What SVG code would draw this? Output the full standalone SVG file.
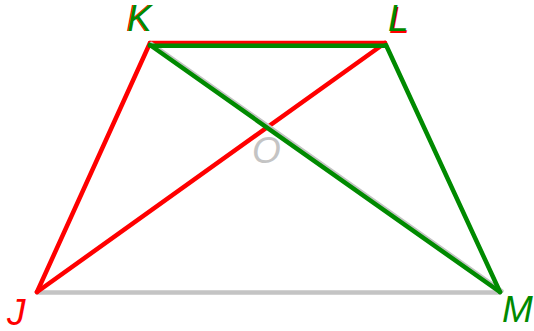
<svg xmlns="http://www.w3.org/2000/svg" width="534" height="331" viewBox="0 0 534 331">
<style>
.ln{fill:none;stroke-width:4.5;stroke-linecap:round;stroke-linejoin:round}
.r{stroke:#ff0000}
.g{stroke:#008a00}
.gy{stroke:#c4c4c4}
.lb{font-family:"Liberation Sans",Arial,sans-serif;font-style:italic;font-size:37px}
</style>
<rect width="534" height="331" fill="#ffffff"/>
<g id="connectors">
<line class="ln gy" x1="37" y1="292.5" x2="500" y2="292.5"/>
<line class="ln r" x1="37" y1="292" x2="150" y2="43"/>
<line class="ln r" x1="37" y1="292" x2="385" y2="43"/>
<line class="ln r" x1="150" y1="43" x2="385" y2="43"/>
<line class="ln gy" x1="151.5" y1="44" x2="501.5" y2="291"/>
<line class="ln g" x1="150" y1="45.7" x2="386" y2="45.7"/>
<line class="ln g" x1="150" y1="45" x2="500" y2="292"/>
<line class="ln g" x1="386" y1="45" x2="500" y2="292"/>
</g>
<g id="K"><text class="lb" x="126" y="31" fill="#ff0000">K</text><text class="lb" x="127" y="31" fill="#008a00">K</text></g>
<g id="L"><text class="lb" x="389" y="33" fill="#ff0000">L</text><text class="lb" x="388" y="31" fill="#008a00">L</text></g>
<g id="J"><text class="lb" x="7" y="325" fill="#ff0000">J</text></g>
<g id="M"><text class="lb" x="502" y="322" fill="#008a00">M</text></g>
<g id="O"><text class="lb" x="252" y="163" fill="#c4c4c4">O</text></g>
</svg>
